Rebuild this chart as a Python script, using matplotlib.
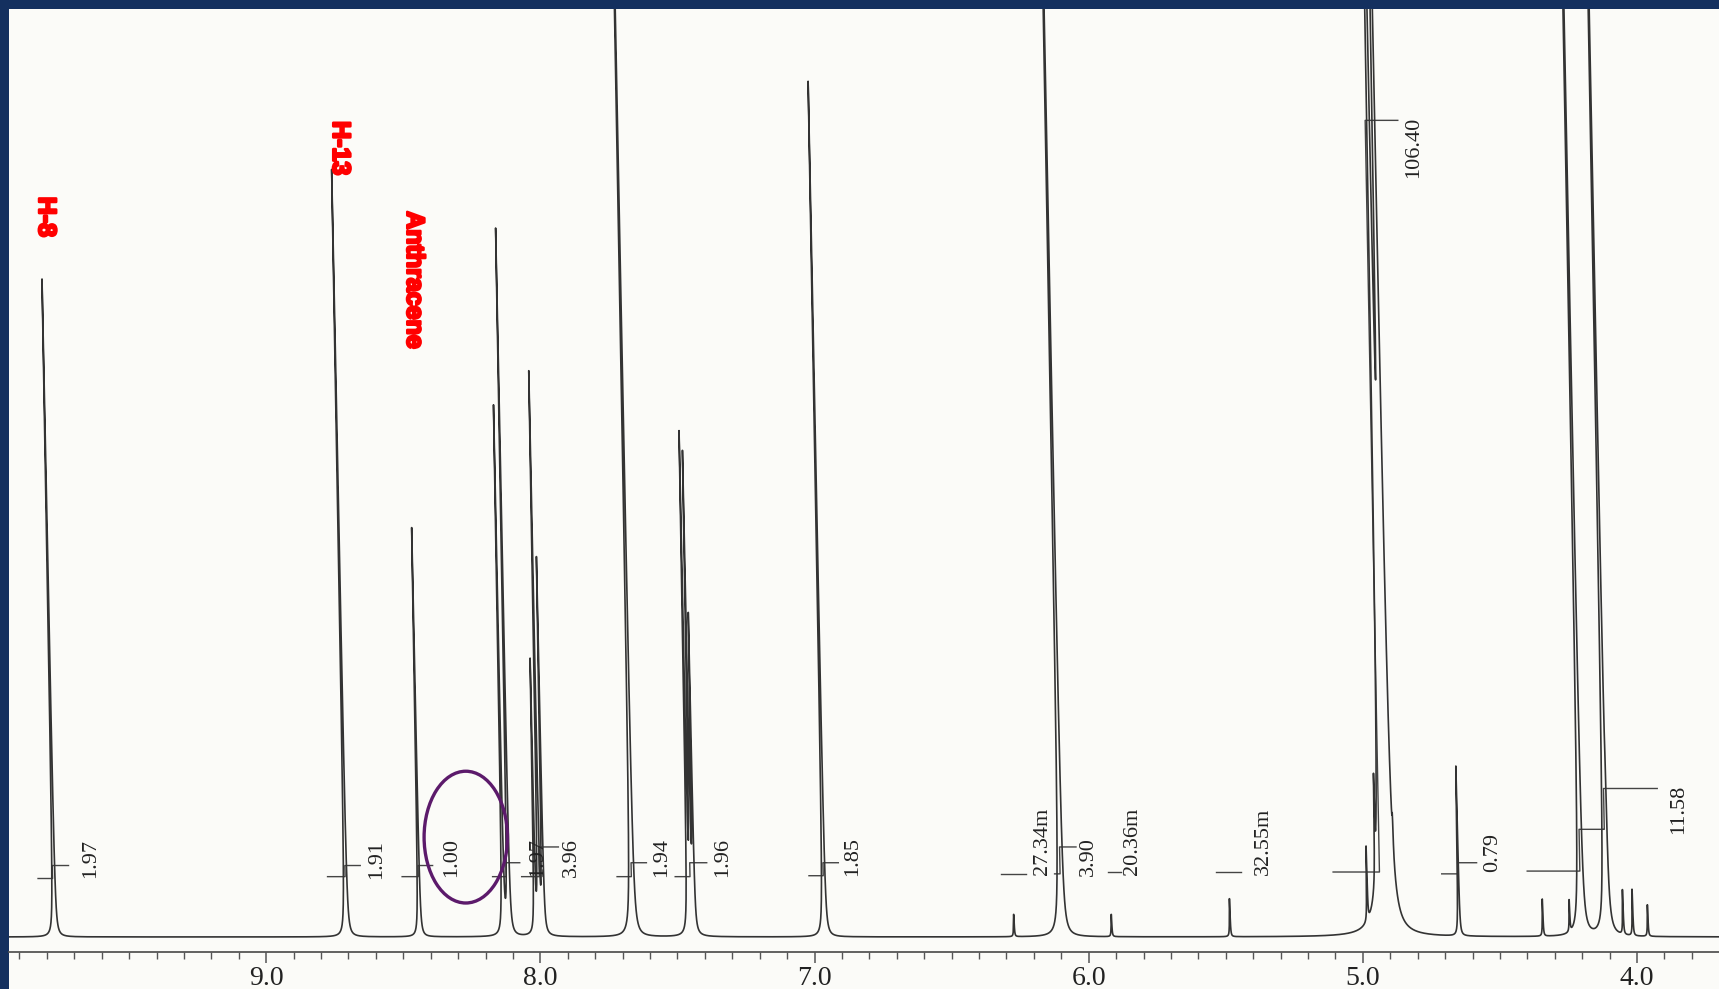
import numpy as np
import matplotlib
matplotlib.use('Agg')
import matplotlib.pyplot as plt
from matplotlib.patches import Ellipse, Rectangle
from matplotlib.transforms import Affine2D
from matplotlib.ticker import MultipleLocator, FormatStrFormatter
import matplotlib.patheffects as pe

# ---------------- data ----------------
peak_ppm = [9.772, 8.708, 8.441, 8.134, 8.114, 8.018, 8.003, 7.988, 7.664,
            7.459, 7.448, 7.438, 6.964, 6.272, 6.100, 5.916, 5.484,
            4.982, 4.950, 4.925, 4.905, 4.884, 4.649, 4.343, 4.245,
            4.204, 4.112, 4.104, 4.050, 4.015, 3.960]
peak_height = [70.9, 82.7, 44.1, 56.7, 75.9, 29.0, 60.0, 40.0, 140.0,
               53.0, 50.0, 33.0, 92.2, 2.4, 140.0, 2.4, 4.1,
               8.0, 10.0, 150.0, 150.0, 3.0, 18.3, 4.0, 3.4,
               150.0, 150.0, 5.0, 4.8, 5.0, 3.4]
peak_width = [0.0018, 0.0018, 0.0018, 0.0018, 0.0018, 0.0018, 0.0018, 0.0018, 0.0022,
              0.0018, 0.0018, 0.0018, 0.0018, 0.0015, 0.0025, 0.0015, 0.0015,
              0.0015, 0.0015, 0.005, 0.005, 0.0015, 0.0018, 0.0015, 0.0015,
              0.0025, 0.0025, 0.0015, 0.0015, 0.0015, 0.0015]

# integral steps: start, rise, end (ppm), low level, high level
int_start = [9.828, 8.772, 8.500, 8.170, 8.064, 7.716, 7.504, 7.016, 6.316, 6.120,
             5.924, 5.532, 5.104, 4.708, 4.396, 4.116]
int_rise = [9.775, 8.708, 8.441, 8.120, 8.000, 7.664, 7.450, 6.964, 6.270, 6.100,
            5.900, 5.486, 4.935, 4.649, 4.204, 4.112]
int_end = [9.716, 8.652, 8.388, 8.070, 7.928, 7.608, 7.388, 6.908, 6.224, 6.040,
           5.876, 5.440, 4.816, 4.580, 4.116, 3.916]
int_low = [6.3, 6.5, 6.5, 6.5, 6.5, 6.5, 6.5, 6.6, 6.8, 6.8,
           7.0, 7.0, 7.0, 6.8, 7.1, 11.6]
int_high = [7.7, 7.7, 7.7, 8.0, 9.7, 8.0, 8.0, 8.0, 6.8, 9.7,
            7.0, 7.0, 88.0, 8.0, 11.6, 16.0]

int_labels = ["1.97", "1.91", "1.00", "1.97", "3.96", "1.94", "1.96", "1.85",
              "27.34m", "3.90", "20.36m", "32.55m", "106.40", "0.79", "11.58"]
int_label_ppm = [9.640, 8.596, 8.324, 8.010, 7.885, 7.556, 7.334, 6.860,
                 6.168, 6.002, 5.842, 5.364, 4.816, 4.528, 3.850]
int_label_y = [8.5, 8.4, 8.6, 8.6, 8.6, 8.6, 8.6, 8.7,
               10.3, 8.7, 10.3, 10.3, 85.1, 9.1, 13.7]

assign_labels = ["H-8", "H-13", "Anthracene"]
assign_ppm = [9.803, 8.730, 8.460]
assign_y = [77.6, 85.0, 70.8]

tick_major = 1.0
tick_minor = 0.1

# ---------------- figure ----------------
W, H = 1719, 989
fig = plt.figure(figsize=(W / 100, H / 100), dpi=100, facecolor='#14305f')
fig.patches.append(Rectangle((9 / W, 0), 1 - 9 / W, 1 - 9 / H, transform=fig.transFigure,
                             facecolor='#fbfbf8', edgecolor='none', zorder=-10))
ax = fig.add_axes([9 / W, 37 / H, 1 - 9 / W, (952 - 9) / H])
ax.set_zorder(5)
ax.set_facecolor('none')
ax.set_xlim(9.938, 3.701)
ax.set_ylim(-1.62, 100)

for s in ['left', 'right', 'top']:
    ax.spines[s].set_visible(False)
ax.spines['bottom'].set_color('#555555')
ax.spines['bottom'].set_linewidth(1.3)
ax.set_yticks([])
ax.xaxis.set_major_locator(MultipleLocator(tick_major))
ax.xaxis.set_minor_locator(MultipleLocator(tick_minor))
ax.xaxis.set_major_formatter(FormatStrFormatter('%.1f'))
ax.tick_params(axis='x', which='major', length=8, width=1.1, color='#555555',
               labelsize=20, pad=2, labelcolor='#222222')
ax.tick_params(axis='x', which='minor', length=5, width=1.0, color='#555555')
for lab in ax.get_xticklabels():
    lab.set_family('Liberation Serif')

# shear like the scanned plot (tops of peaks lean left)
fig.canvas.draw()
y0 = ax.transData.transform((0, 0))[1]
k = 0.019
shear = ax.transData + Affine2D().translate(0, -y0).skew(np.arctan(-k), 0).translate(0, y0)

# spectrum
x = np.linspace(3.6, 10.0, 96001)
y = np.zeros_like(x)
for p, h, g in zip(peak_ppm, peak_height, peak_width):
    y += h * g ** 2 / ((x - p) ** 2 + g ** 2)
ax.plot(x, y, color='#333333', lw=1.2, transform=shear, zorder=3)

# integral traces
for s0, r, e, lo, hi in zip(int_start, int_rise, int_end, int_low, int_high):
    ax.plot([s0, r, r, e], [lo, lo, hi, hi], color='#444444', lw=1.0,
            transform=shear, zorder=2)

# integral labels
for t, px, py in zip(int_labels, int_label_ppm, int_label_y):
    ax.text(px, py, t, rotation=90, ha='center', va='center', fontsize=16,
            family='Liberation Serif', color='#222222', zorder=4)

# assignment labels
for t, px, py in zip(assign_labels, assign_ppm, assign_y):
    ax.text(px, py, t, rotation=-90, ha='center', va='center', fontsize=18,
            fontweight='bold', family='Liberation Sans', color='#ff0000', zorder=5,
            path_effects=[pe.withStroke(linewidth=1.8, foreground='#ff0000')])

# highlight ellipse
ax.add_patch(Ellipse((8.272, 10.76), 0.304, 14.2, fill=False,
                     edgecolor='#5c1a6b', lw=2.4, zorder=6))

fig.savefig('out.png', dpi=100, facecolor=fig.get_facecolor())
